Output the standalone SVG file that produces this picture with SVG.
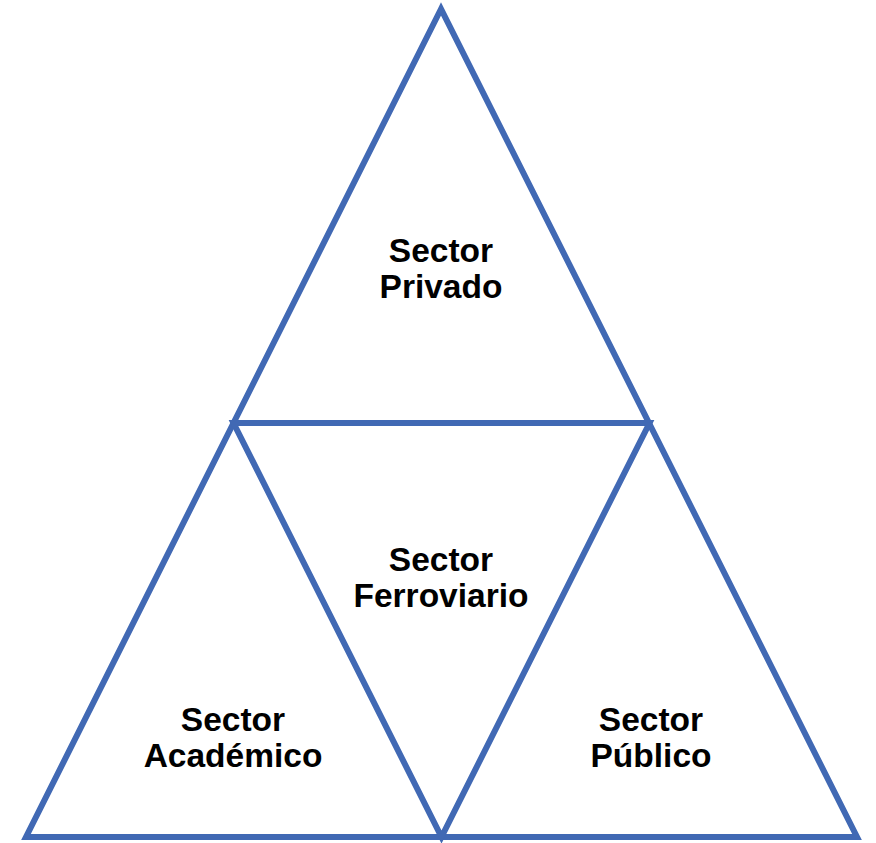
<svg xmlns="http://www.w3.org/2000/svg" width="876" height="843" viewBox="0 0 876 843">
<style>
.edge{fill:none;stroke:#4169b4;stroke-width:6;stroke-linejoin:miter}
.lbl{font-family:"Liberation Sans",Arial,sans-serif;font-weight:bold;font-size:33.5px;fill:#000;text-anchor:middle}
</style>
<rect width="876" height="843" fill="#fff"/>
<g id="connectors">
<path class="edge" d="M441,9 L26,837 L857,837 Z"/>
<path class="edge" d="M233.5,423 L649.5,423 L441.5,837 Z"/>
</g>
<g id="privado"><text class="lbl" x="441" y="262">Sector</text><text class="lbl" x="441" y="298">Privado</text></g>
<g id="ferroviario"><text class="lbl" x="441" y="571">Sector</text><text class="lbl" x="441" y="607">Ferroviario</text></g>
<g id="academico"><text class="lbl" x="233" y="731">Sector</text><text class="lbl" x="233" y="767">Académico</text></g>
<g id="publico"><text class="lbl" x="651" y="731">Sector</text><text class="lbl" x="651" y="767">Público</text></g>
</svg>
